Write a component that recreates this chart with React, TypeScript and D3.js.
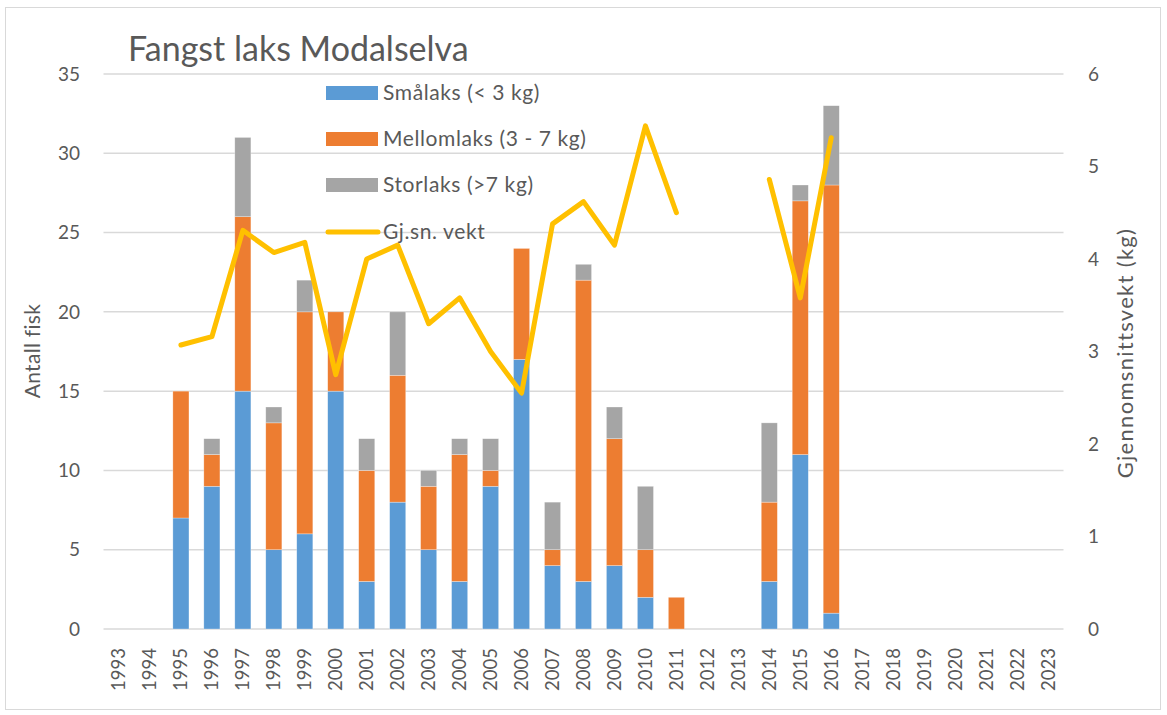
import React from "react";
import * as d3 from "d3";

const years = d3.range(1993, 2024).map(String);
const smalaks: (number | null)[] = [0, 0, 7, 9, 15, 5, 6, 15, 3, 8, 5, 3, 9, 17, 4, 3, 4, 2, 0, 0, 0, 3, 11, 1, 0, 0, 0, 0, 0, 0, 0];
const mellomlaks: (number | null)[] = [0, 0, 8, 2, 11, 8, 14, 5, 7, 8, 4, 8, 1, 7, 1, 19, 8, 3, 2, 0, 0, 5, 16, 27, 0, 0, 0, 0, 0, 0, 0];
const storlaks: (number | null)[] = [0, 0, 0, 1, 5, 1, 2, 0, 2, 4, 1, 1, 2, 0, 3, 1, 2, 4, 0, 0, 0, 5, 1, 5, 0, 0, 0, 0, 0, 0, 0];
const snittvekt: (number | null)[] = [null, null, 3.07, 3.16, 4.31, 4.07, 4.18, 2.75, 4.0, 4.15, 3.3, 3.58, 3.0, 2.55, 4.38, 4.62, 4.15, 5.44, 4.5, null, null, 4.86, 3.58, 5.31, null, null, null, null, null, null, null];
const leftTicks = [0, 5, 10, 15, 20, 25, 30, 35];
const rightTicks = [0, 1, 2, 3, 4, 5, 6];
const seriesNames = ["Smålaks (< 3 kg)", "Mellomlaks (3 - 7 kg)", "Storlaks (>7 kg)", "Gj.sn. vekt"];
const colors = ["#5B9BD5", "#ED7D31", "#A5A5A5", "#FFC000"];

const W = 1167, H = 715;
const FONT = "Lato, 'Open Sans', sans-serif";
const TXT = "#595959";

export default function App() {
  const left = 103.5, right = 1063.5, top = 74, bottom = 629;
  const x = d3.scaleBand<string>().domain(years).range([left, right]).paddingInner(0.48).paddingOuter(0.24);
  const y = d3.scaleLinear().domain([0, 35]).range([bottom, top]);
  const y2 = d3.scaleLinear().domain([0, 6]).range([bottom, top]);

  const rows = years.map((yr, i) => ({ year: yr, s: smalaks[i] ?? 0, m: mellomlaks[i] ?? 0, l: storlaks[i] ?? 0 }));
  const stack = d3.stack<any>().keys(["s", "m", "l"])(rows);

  const line = d3.line<number | null>()
    .defined(d => d != null)
    .x((_, i) => (x(years[i]) as number) + x.bandwidth() / 2)
    .y(d => y2(d as number));

  const legX = 326, legY = [93, 139, 185, 232];

  return (
    <svg width={W} height={H} style={{ display: "block", position: "absolute", left: 0, top: 0 }} fontFamily={FONT}>
      <rect x={0} y={0} width={W} height={H} fill="#fff" />
      <rect x={5.5} y={7.5} width={1155} height={702} fill="#fff" stroke="#d9d9d9" strokeWidth={1} />
      <text x={128} y={61} fontSize={34} fill={TXT}>Fangst laks Modalselva</text>
      {leftTicks.map(t => (
        <g key={"g" + t}>
          <line x1={left} x2={right} y1={y(t)} y2={y(t)} stroke="#d9d9d9" strokeWidth={1.5} />
          <text x={80} y={y(t)} dy="0.35em" textAnchor="end" fontSize={19} fill={TXT}>{t}</text>
        </g>
      ))}
      {rightTicks.map(t => (
        <text key={"r" + t} x={1088} y={y2(t)} dy="0.35em" textAnchor="start" fontSize={19} fill={TXT}>{t}</text>
      ))}
      <text transform={`translate(40,351) rotate(-90)`} textAnchor="middle" fontSize={21} letterSpacing={0.3} fill={TXT}>Antall fisk</text>
      <text transform={`translate(1133,353) rotate(-90)`} textAnchor="middle" fontSize={22} letterSpacing={1.3} fill={TXT}>Gjennomsnittsvekt (kg)</text>
      {stack.map((layer, si) => (
        <g key={"s" + si} fill={colors[si]}>
          {layer.map((d, i) => d[1] - d[0] > 0 ? (
            <rect key={i} x={x(years[i])} width={x.bandwidth()} y={y(d[1])} height={y(d[0]) - y(d[1])} stroke="#ffffff" strokeOpacity={0.5} strokeWidth={0.6} />
          ) : null)}
        </g>
      ))}
      <path d={line(snittvekt) || ""} fill="none" stroke={colors[3]} strokeWidth={5} strokeLinejoin="round" strokeLinecap="round" />
      {years.map(yr => (
        <text key={yr} transform={`translate(${(x(yr) as number) + x.bandwidth() / 2},648) rotate(-90)`} dy="0.35em" textAnchor="end" fontSize={18.5} fill={TXT}>{yr}</text>
      ))}
      {seriesNames.map((n, i) => (
        <g key={n}>
          {i < 3 ? (
            <rect x={legX} y={legY[i] - 7} width={52} height={14} fill={colors[i]} />
          ) : (
            <line x1={legX + 2} x2={legX + 52} y1={legY[i]} y2={legY[i]} stroke={colors[3]} strokeWidth={5} strokeLinecap="round" />
          )}
          <text x={383} y={legY[i]} dy="0.35em" fontSize={21} letterSpacing={0.6} fill={TXT}>{n}</text>
        </g>
      ))}
    </svg>
  );
}
